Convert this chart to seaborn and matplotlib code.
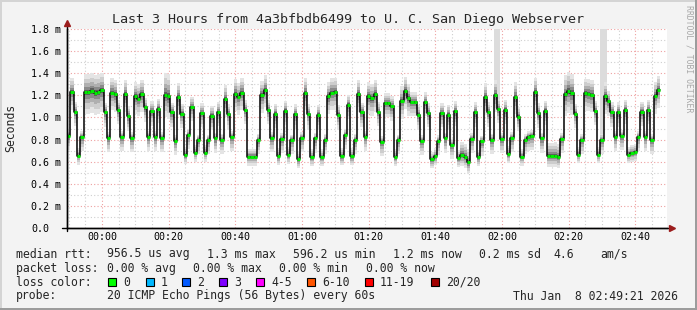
import numpy as np
import pandas as pd
import matplotlib
matplotlib.use("Agg")
import matplotlib.pyplot as plt
import seaborn as sns
from matplotlib.patches import Rectangle

# ---------------- data ----------------
start_min = -10.5  # minutes relative to 00:00 of first sample
median_ms = [
    0.835, 1.23, 1.05, 0.654, 0.826, 1.23, 1.23, 1.24, 1.225, 1.23,
    1.245, 1.045, 0.814, 1.225, 1.21, 1.067, 0.826, 1.21, 1.01, 0.814,
    1.19, 1.17, 1.21, 1.09, 0.826, 1.056, 0.826, 1.08, 0.814, 1.206,
    1.19, 1.045, 0.79, 1.185, 1.035, 0.66, 0.845, 1.095, 0.68, 0.795,
    1.04, 0.68, 0.795, 1.015, 0.81, 1.05, 0.80, 1.167, 1.03, 0.823,
    1.215, 1.185, 1.225, 1.067, 0.645, 0.645, 0.645, 0.80, 1.20, 1.25,
    1.067, 0.814, 1.035, 0.65, 0.805, 1.06, 0.66, 0.795, 1.03, 0.62,
    0.814, 1.225, 1.03, 0.643, 0.81, 1.025, 0.643, 0.80, 1.19, 1.225,
    1.23, 1.025, 0.65, 0.845, 1.115, 0.65, 0.80, 1.21, 1.045, 0.826,
    1.19, 1.175, 1.21, 1.05, 0.78, 1.13, 1.13, 1.10, 0.643, 0.795,
    1.15, 1.24, 1.175, 1.14, 1.14, 1.025, 0.79, 1.14, 1.04, 0.62,
    0.65, 0.79, 1.04, 0.81, 1.025, 0.755, 1.055, 0.633, 0.66, 0.642,
    0.594, 0.805, 1.047, 0.639, 0.785, 1.182, 1.047, 0.80, 1.206, 1.077,
    0.805, 1.071, 0.67, 0.814, 1.188, 1.007, 0.645, 0.796, 0.826, 0.833,
    1.23, 1.038, 0.811, 1.062, 0.652, 0.652, 0.655, 0.642, 0.805, 1.21,
    1.243, 1.22, 1.035, 0.664, 0.796, 1.22, 1.215, 1.206, 1.059, 0.664,
    0.80, 1.19, 1.146, 1.047, 0.823, 1.047, 0.833, 1.071, 0.664, 0.679,
    0.688, 0.823, 1.053, 0.823, 1.068, 0.796, 1.195, 1.249,
]
smoke_up = [
    .05, .13, .09, .07, .05, .16, .16, .16, .16, .16,
    .16, .09, .05, .13, .13, .09, .05, .13, .09, .05,
    .13, .13, .13, .09, .05, .09, .05, .09, .05, .20,
    .20, .09, .05, .13, .09, .07, .05, .09, .07, .05,
    .09, .07, .05, .09, .05, .09, .05, .13, .09, .05,
    .13, .13, .13, .09, .07, .07, .07, .05, .13, .13,
    .09, .05, .09, .07, .05, .09, .07, .05, .09, .07,
    .05, .13, .09, .07, .05, .09, .07, .05, .13, .13,
    .13, .09, .07, .05, .09, .07, .05, .13, .09, .05,
    .13, .13, .13, .09, .05, .09, .09, .09, .07, .05,
    .13, .13, .13, .09, .09, .09, .05, .09, .09, .07,
    .07, .05, .09, .05, .09, .05, .09, .07, .12, .12,
    .12, .05, .09, .07, .05, .13, .09, .05, .13, .09,
    .05, .09, .07, .05, .13, .09, .07, .05, .05, .05,
    .13, .09, .05, .09, .12, .12, .12, .12, .05, .17,
    .17, .17, .09, .07, .05, .13, .13, .13, .09, .07,
    .05, .13, .09, .09, .05, .09, .05, .09, .07, .07,
    .07, .05, .09, .05, .09, .05, .13, .13,
]
smoke_dn = [
    .13, .16, .13, .08, .13, .20, .20, .20, .20, .20,
    .20, .13, .13, .16, .16, .13, .13, .16, .13, .13,
    .16, .16, .16, .13, .13, .13, .13, .13, .13, .20,
    .20, .13, .13, .16, .13, .08, .13, .13, .08, .13,
    .13, .08, .13, .13, .13, .13, .13, .16, .13, .13,
    .16, .16, .16, .13, .08, .08, .08, .13, .16, .16,
    .13, .13, .13, .08, .13, .13, .08, .13, .13, .08,
    .13, .16, .13, .08, .13, .13, .08, .13, .16, .16,
    .16, .13, .08, .13, .13, .08, .13, .16, .13, .13,
    .16, .16, .16, .13, .13, .13, .13, .13, .08, .13,
    .16, .16, .16, .13, .13, .13, .13, .13, .13, .08,
    .08, .13, .13, .13, .13, .13, .13, .08, .10, .10,
    .10, .13, .13, .08, .13, .16, .13, .13, .16, .13,
    .13, .13, .08, .13, .16, .13, .08, .13, .13, .13,
    .16, .13, .13, .13, .10, .10, .10, .10, .13, .20,
    .20, .20, .13, .08, .13, .16, .16, .16, .13, .08,
    .13, .16, .13, .13, .13, .13, .13, .13, .08, .08,
    .08, .13, .13, .13, .13, .13, .16, .16,
]
spike_idx = [128, 129, 160, 161]
spike_top = [1.9, 1.9, 1.9, 1.9]

x_ticks = [0, 20, 40, 60, 80, 100, 120, 140, 160]
x_tick_labels = ["00:00", "00:20", "00:40", "01:00", "01:20",
                 "01:40", "02:00", "02:20", "02:40"]
y_ticks = [0.0, 0.2, 0.4, 0.6, 0.8, 1.0, 1.2, 1.4, 1.6, 1.8]
y_tick_labels = ["0.0", "0.2 m", "0.4 m", "0.6 m", "0.8 m",
                 "1.0 m", "1.2 m", "1.4 m", "1.6 m", "1.8 m"]

title = "Last 3 Hours from 4a3bfbdb6499 to U. C. San Diego Webserver"
loss_labels = ["0", "1", "2", "3", "4-5", "6-10", "11-19", "20/20"]
loss_colors = ["#00ff00", "#00b8ff", "#0059ff", "#7e00ff",
               "#ff00ff", "#ff5500", "#ff0000", "#a10000"]

# ---------------- style ----------------
sns.set_theme(style="white")
plt.rcParams["font.family"] = ["DejaVu Sans Mono", "DejaVu Sans"]

W, H = 697, 310
fig = plt.figure(figsize=(W / 100, H / 100), dpi=100, facecolor="#f3f3f3")
ax = fig.add_axes([67 / W, 1 - 228 / H, 600 / W, 199 / H])
ax.set_facecolor("white")

n = len(median_ms)
t = start_min + np.arange(n)
med = np.array(median_ms)
up = np.array(smoke_up)
dn = np.array(smoke_dn)
xs = np.append(t, t[-1] + 1)

def ext(a):
    return np.append(a, a[-1])

# spikes (single very slow pings) drawn as the lightest smoke
for k, i in enumerate(spike_idx):
    ax.fill_between([t[i], t[i] + 1], [med[i] - dn[i]] * 2, [spike_top[k]] * 2,
                    color="#dcdcdc", lw=0, zorder=1)

# smoke layers from outer (light) to inner (dark)
fracs = [1.0, 0.75, 0.5, 0.3, 0.14]
shades = ["#e4e4e4", "#cdcdcd", "#afafaf", "#8a8a8a", "#5e5e5e"]
for f, c in zip(fracs, shades):
    ax.fill_between(xs, ext(med - dn * f), ext(med + up * f), step="post",
                    color=c, lw=0, zorder=2)

df = pd.DataFrame({"t": xs, "rtt": ext(med)})
sns.lineplot(data=df, x="t", y="rtt", drawstyle="steps-post", color="black",
             lw=1.1, ax=ax, zorder=4, estimator=None)
ax.hlines(med, t, t + 1, colors="#00ee00", lw=2.2, zorder=5)

ax.set_xlim(start_min, start_min + 180)
ax.set_ylim(0, 1.8)
ax.set_xlabel("")
ax.set_ylabel("")

ax.set_xticks(x_ticks)
ax.set_xticklabels(x_tick_labels)
ax.set_xticks(np.arange(-10, 170, 5), minor=True)
ax.set_yticks(y_ticks)
ax.set_yticklabels(y_tick_labels)
ax.set_yticks(np.arange(0.1, 1.8, 0.2), minor=True)

dot = (0, (1, 2))
ax.grid(which="minor", color="#cfcfcf", ls=dot, lw=0.8, zorder=0)
ax.grid(which="major", color="#eea0a0", ls=dot, lw=0.8, zorder=0)
ax.set_axisbelow(True)

ax.tick_params(axis="both", which="both", length=0)
ax.tick_params(axis="x", labelsize=7.2, pad=3, colors="black")
ax.tick_params(axis="y", labelsize=7.2, pad=26, colors="black")
for lab in ax.get_yticklabels():
    lab.set_ha("left")

for s in ["top", "right"]:
    ax.spines[s].set_visible(False)
for s in ["left", "bottom"]:
    ax.spines[s].set_color("black")
    ax.spines[s].set_linewidth(1.0)
    ax.spines[s].set_zorder(6)

# axis extensions and arrows
ax.plot([0, 0], [-0.015, 1.03], transform=ax.transAxes, color="black",
        lw=1.0, clip_on=False, zorder=6)
ax.plot([-0.008, 1.005], [0, 0], transform=ax.transAxes, color="black",
        lw=1.0, clip_on=False, zorder=6)
ax.plot([0], [1.03], marker="^", ms=5, color="#9b1c1c", transform=ax.transAxes,
        clip_on=False, zorder=7)
ax.plot([1.008], [0], marker=">", ms=5, color="#9b1c1c", transform=ax.transAxes,
        clip_on=False, zorder=7)

def ftext(x, y, s, size=8.3, **kw):
    fig.text(x / W, 1 - y / H, s, fontsize=size, va="center",
             ha=kw.pop("ha", "left"), **kw)

ftext(348, 19, title, size=9.6, ha="center")
ftext(11, 128, "Seconds", size=8.3, ha="center", rotation=90)
fig.text(689 / W, 1 - 5 / H, "RRDTOOL / TOBI OETIKER", fontsize=5.9,
         color="#a8a8a8", rotation=270, ha="center", va="top")

# legend rows
ftext(16, 254, "median rtt:")
for x, s in [(107.3, "956.5 us avg"), (207.3, "1.3 ms max"), (293.3, "596.2 us min"),
             (393.3, "1.2 ms now"), (479.3, "0.2 ms sd"), (553, "4.6"), (600, "am/s")]:
    ftext(x, 254, s)
ftext(16, 268.3, "packet loss:")
for x, s in [(107.3, "0.00 % avg"), (193.3, "0.00 % max"), (279.3, "0.00 % min"),
             (366, "0.00 % now")]:
    ftext(x, 268.3, s)
ftext(16, 282.3, "loss color:")
box_x = [108.3, 145.7, 182.3, 219, 256, 307.3, 365, 430.7]
for bx, lab, col in zip(box_x, loss_labels, loss_colors):
    fig.patches.append(Rectangle((bx / W, 1 - 286.3 / H), 8 / W, 8 / H,
                                 transform=fig.transFigure, facecolor=col,
                                 edgecolor="black", lw=0.8))
    ftext(bx + 15, 282.3, lab)
ftext(16, 296, "probe:")
ftext(107.3, 296, "20 ICMP Echo Pings (56 Bytes) every 60s")
ftext(513.3, 296, "Thu Jan  8 02:49:21 2026")

# image frame
for (x, y, w, h, c) in [(0, 0, 697, 2, "#d4d4d4"), (0, 0, 2, 310, "#d4d4d4"),
                        (695, 0, 2, 310, "#9c9c9c"), (0, 308, 697, 2, "#9c9c9c")]:
    fig.patches.append(Rectangle((x / W, 1 - (y + h) / H), w / W, h / H,
                                 transform=fig.transFigure, facecolor=c, lw=0))

fig.savefig("out.png", dpi=100, facecolor=fig.get_facecolor())
